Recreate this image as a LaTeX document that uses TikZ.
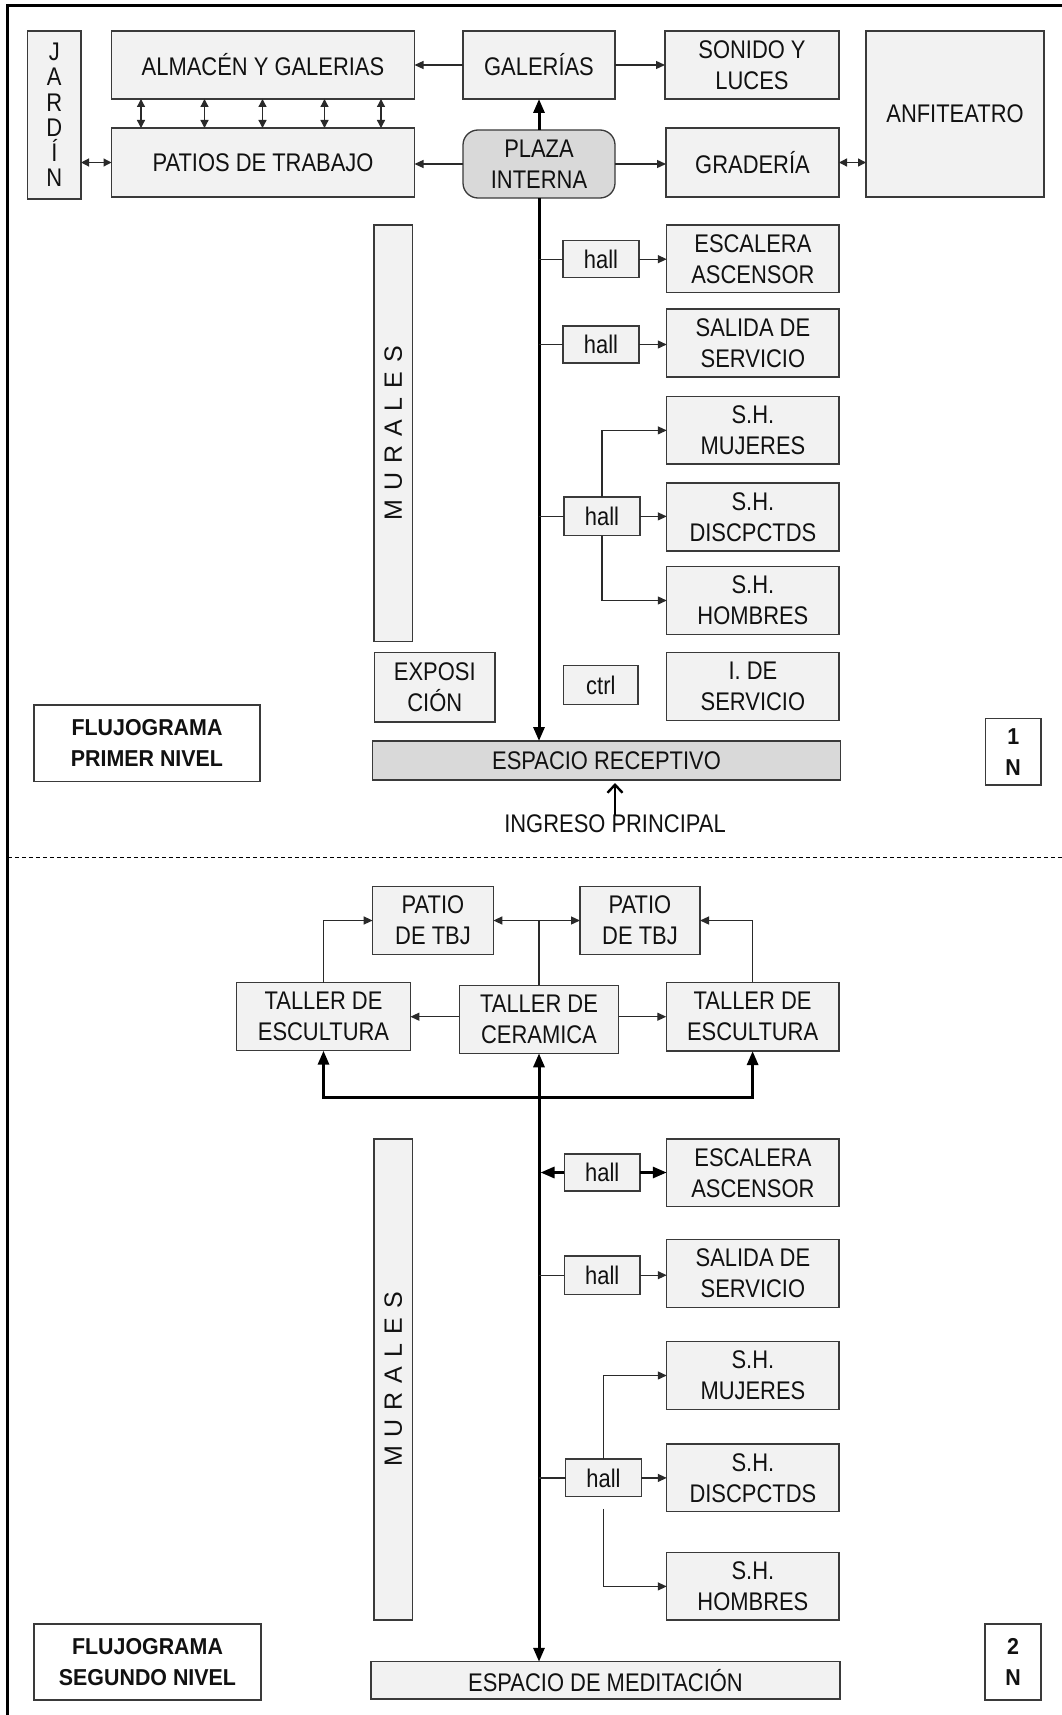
\documentclass[tikz,border=0pt]{standalone}
\usepackage{fontspec}
\setmainfont{Liberation Sans}[FakeStretch=0.86]
\newfontfamily\lblfont{Liberation Sans}[FakeStretch=0.93]
\newfontfamily\widefont{Liberation Sans}
\usetikzlibrary{arrows.meta,calc}
\definecolor{boxfill}{HTML}{F2F2F2}
\definecolor{darkfill}{HTML}{D9D9D9}
\definecolor{edgecol}{HTML}{3A3A3A}
\definecolor{lncol}{HTML}{2A2A2A}
\definecolor{ink}{HTML}{111111}
\begin{document}
\begin{tikzpicture}[x=1pt,y=-1pt,
  every node/.style={inner sep=0pt, outer sep=0pt, text=ink},
  sz/.style 2 args={minimum width=#1pt, minimum height=#2pt},
  box/.style={draw=edgecol, line width=1.3pt, fill=boxfill, align=center,
     font=\fontsize{25.5}{31}\selectfont},
  darkbox/.style={box, fill=darkfill},
  lblbox/.style={draw=edgecol, line width=1.3pt, fill=white, align=center,
     font=\lblfont\bfseries\fontsize{23}{31}\selectfont},
  txt/.style={font=\fontsize{25.5}{31}\selectfont},
  ln/.style={line width=1.3pt, draw=lncol},
  arr/.style={ln, -{Triangle[length=9pt,width=8pt]}},
  dbl/.style={ln, {Triangle[length=8pt,width=8pt]}-{Triangle[length=8pt,width=8pt]}},
  thickarr/.style={line width=3pt, draw=black, -{Triangle[length=14pt,width=11pt]}},
  thickdbl/.style={line width=3pt, draw=black, {Triangle[length=14pt,width=11pt]}-{Triangle[length=14pt,width=11pt]}},
  openarr/.style={line width=2.4pt, draw=black, -{Straight Barb[length=8pt,width=15pt]}},
  frameline/.style={line width=3pt, draw=black},
  dashline/.style={line width=1.2pt, draw=black, dash pattern=on 4pt off 3pt}
]
\useasboundingbox (0,0) rectangle (1062,1715);
\fill[white] (0,0) rectangle (1062,1715);

% frame
\coordinate (tl) at (7.8,5.3);
\coordinate (tr) at (1064,5.3);
\coordinate (bl) at (7.8,1717);
\draw[frameline] (tr) -- (tl) -- (bl);
\coordinate (dl) at (7.8,857.3);
\coordinate (dr) at (1062,857.3);
\draw[dashline] (dl) -- (dr);

% ---------------- LEVEL 1 ----------------
\node[box, sz={53.5}{168}, font=\fontsize{25.5}{25.2}\selectfont] (jardin) at (54.3,115) {J\\A\\R\\D\\Í\\N};
\node[box, sz={303}{68}] (almacen) at (263,65) {ALMACÉN Y GALERIAS};
\node[box, sz={303}{69}] (patios) at (263,162.5) {PATIOS DE TRABAJO};
\node[box, sz={152}{68}] (galerias) at (539,65) {GALERÍAS};
\node[darkbox, sz={152}{68}, rounded corners=15pt] (plaza) at (539,164) {PLAZA\\INTERNA};
\node[box, sz={174}{68}] (sonido) at (752,65) {SONIDO Y\\LUCES};
\node[box, sz={173}{69}] (graderia) at (752.5,162.5) {GRADERÍA};
\node[box, sz={178}{166}] (anfi) at (955,114) {ANFITEATRO};

\node[box, sz={416.7}{38.7}, rotate=90, font=\widefont\fontsize{25}{25}\selectfont] (murales1) at (393.3,433.3)
  {M\kern9pt U\kern9pt R\kern9pt A\kern9pt L\kern9pt E\kern9pt S};
\node[box, sz={120.5}{69.3}] (expos) at (434.8,687.4) {EXPOSI\\CIÓN};

\node[box, sz={76}{37}] (hall1a) at (601,259.2) {hall};
\node[box, sz={172.3}{67.7}] (escal1) at (752.9,258.9) {ESCALERA\\ASCENSOR};
\node[box, sz={76}{37}] (hall1b) at (601,344.5) {hall};
\node[box, sz={172.3}{68}] (salida1) at (752.9,343) {SALIDA DE\\SERVICIO};
\node[box, sz={172.3}{67.3}] (mujer1) at (752.9,430.4) {S.H.\\MUJERES};
\node[box, sz={76}{38.7}] (hall1c) at (602,516.4) {hall};
\node[box, sz={172.3}{68}] (disc1) at (752.9,517) {S.H.\\DISCPCTDS};
\node[box, sz={172.3}{68}] (hombre1) at (752.9,600.5) {S.H.\\HOMBRES};
\node[box, sz={74.5}{38.6}] (ctrl) at (600.8,685) {ctrl};
\node[box, sz={172.3}{68}] (iserv) at (752.9,686.7) {I. DE\\SERVICIO};
\node[darkbox, sz={468}{39}] (recep) at (606.5,760.5) {ESPACIO RECEPTIVO};
\node[lblbox, sz={226}{76.7}] (flujo1) at (147,743.4) {FLUJOGRAMA\\PRIMER NIVEL};
\node[lblbox, sz={55.6}{66.3}] (n1) at (1013.2,751.9) {1\\N};
\node[txt] (ingreso) at (615,824) {INGRESO PRINCIPAL};

% level 1 connectors
\draw[arr] (galerias.west) -- (almacen.east);
\draw[arr] (galerias.east) -- (sonido.west);
\draw[arr] (plaza.west) -- (plaza.west -| patios.east);
\draw[arr] (plaza.east) -- (plaza.east -| graderia.west);
\draw[dbl] (graderia.east) -- (graderia.east -| anfi.west);
\draw[dbl] (patios.west -| jardin.east) -- (patios.west);
\foreach \d in {29.5,93,151,213,269.5}
  \draw[dbl] ([xshift=\d pt]almacen.south west) -- ([xshift=\d pt]patios.north west);
\draw[thickarr] (plaza.north) -- (galerias.south);
\draw[thickarr] (plaza.south) -- (plaza.south |- recep.north);

\draw[ln] (hall1a.west -| plaza.south) -- (hall1a.west);
\draw[arr] (hall1a.east) -- (hall1a.east -| escal1.west);
\draw[ln] (hall1b.west -| plaza.south) -- (hall1b.west);
\draw[arr] (hall1b.east) -- (hall1b.east -| salida1.west);
\draw[ln] (hall1c.west -| plaza.south) -- (hall1c.west);
\draw[arr] (hall1c.east) -- (hall1c.east -| disc1.west);
\draw[arr] (hall1c.north) |- (mujer1.west);
\draw[arr] (hall1c.south) |- (hombre1.west);
\draw[openarr, shorten >=3pt] (ingreso.north) -- (ingreso.north |- recep.south);

% ---------------- LEVEL 2 ----------------
\node[box, sz={120.7}{67.6}] (patio1) at (433,920.5) {PATIO\\DE TBJ};
\node[box, sz={120}{67.6}] (patio2) at (640,920.5) {PATIO\\DE TBJ};
\node[box, sz={173.8}{68}] (esc1) at (323.5,1016.7) {TALLER DE\\ESCULTURA};
\node[box, sz={159.2}{68}] (ceram) at (539,1019.3) {TALLER DE\\CERAMICA};
\node[box, sz={172.7}{68.7}] (esc2) at (752.6,1016.7) {TALLER DE\\ESCULTURA};

\node[box, sz={481}{38.7}, rotate=90, font=\widefont\fontsize{25}{25}\selectfont] (murales2) at (393.3,1379.5)
  {M\kern9pt U\kern9pt R\kern9pt A\kern9pt L\kern9pt E\kern9pt S};

\node[box, sz={75.7}{37}] (hall2a) at (602.2,1172.5) {hall};
\node[box, sz={172.3}{67.7}] (escal2) at (752.9,1172.9) {ESCALERA\\ASCENSOR};
\node[box, sz={75.7}{38.3}] (hall2b) at (602.2,1275.2) {hall};
\node[box, sz={172.3}{68}] (salida2) at (752.9,1273.3) {SALIDA DE\\SERVICIO};
\node[box, sz={172.3}{67.6}] (mujer2) at (752.9,1375.5) {S.H.\\MUJERES};
\node[box, sz={75.6}{37.7}] (hall2c) at (603.5,1477.9) {hall};
\node[box, sz={172.3}{67.7}] (disc2) at (752.9,1477.9) {S.H.\\DISCPCTDS};
\node[box, sz={172.3}{67.3}] (hombre2) at (752.9,1586.4) {S.H.\\HOMBRES};
\node[box, sz={469}{37.3}] (medit) at (605.5,1680.4) {ESPACIO DE MEDITACIÓN};
\node[lblbox, sz={227}{76}] (flujo2) at (147.5,1662) {FLUJOGRAMA\\SEGUNDO NIVEL};
\node[lblbox, sz={56}{76}] (n2) at (1013,1662) {2\\N};

% level 2 connectors
\draw[arr] (esc1.north) |- (patio1.west);
\draw[arr] (esc2.north) |- (patio2.east);
\draw[arr] (ceram.north) |- (patio1.east);
\draw[arr] (ceram.north) |- (patio2.west);
\draw[arr] (esc1.east -| ceram.west) -- (esc1.east);
\draw[arr] (esc2.west -| ceram.east) -- (esc2.west);
\coordinate (j2) at (539,1097.7);
\draw[thickdbl] (esc1.south) |- (j2) -| (esc2.south);
\draw[thickdbl] (ceram.south) -- (ceram.south |- medit.north);

\draw[thickarr, shorten >=1.5pt] (hall2a.west) -- (hall2a.west -| ceram.south);
\draw[thickarr] (hall2a.east) -- (hall2a.east -| escal2.west);
\draw[ln] (hall2b.west -| ceram.south) -- (hall2b.west);
\draw[arr] (hall2b.east) -- (hall2b.east -| salida2.west);
\draw[ln] (hall2c.west -| ceram.south) -- (hall2c.west);
\draw[arr] (hall2c.east) -- (hall2c.east -| disc2.west);
\draw[arr] (hall2c.north) |- (mujer2.west);
\draw[arr] ([yshift=-12pt]hall2c.south) |- (hombre2.west);
\end{tikzpicture}
\end{document}
